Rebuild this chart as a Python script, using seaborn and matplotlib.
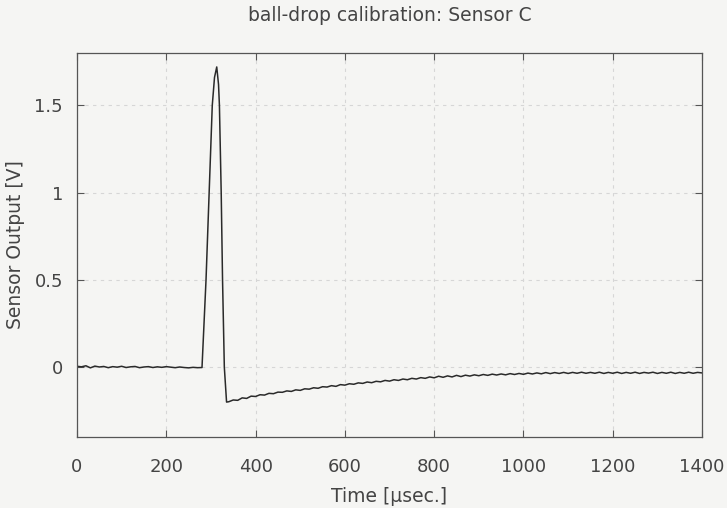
import numpy as np
import pandas as pd
import matplotlib
matplotlib.use("Agg")
import matplotlib.pyplot as plt
import seaborn as sns

# ---- data -------------------------------------------------------------
title = "ball-drop calibration: Sensor C"
x_label = "Time [µsec.]"
y_label = "Sensor Output [V]"

x_ticks = [0, 200, 400, 600, 800, 1000, 1200, 1400]
y_ticks = [0, 0.5, 1, 1.5]
y_tick_labels = ["0", "0.5", "1", "1.5"]

# quiet baseline before impact (10 µs sampling)
baseline_t = list(range(0, 290, 10))
baseline_v = [0.005, 0.002, 0.008, -0.004, 0.006, 0.001, 0.004, -0.003, 0.003, 0.000,
              0.005, -0.002, 0.002, 0.004, -0.003, 0.001, 0.003, -0.002, 0.002, -0.001,
              0.003, 0.000, -0.003, 0.001, -0.002, -0.004, -0.001, -0.003, -0.002]

# impact pulse
pulse_t = [289, 296, 303, 308, 313, 317, 319, 323, 326, 330, 335]
pulse_v = [0.50, 1.00, 1.50, 1.66, 1.72, 1.62, 1.50, 1.00, 0.50, 0.00, -0.20]

# undershoot and slow recovery (10 µs sampling)
tail_t = list(range(340, 1410, 10))
tail_v = [-0.198, -0.188, -0.190, -0.176, -0.179, -0.166, -0.168, -0.158, -0.160, -0.150,
          -0.152, -0.143, -0.144, -0.136, -0.139, -0.130, -0.133, -0.124, -0.126, -0.118,
          -0.121, -0.112, -0.114, -0.106, -0.110, -0.100, -0.103, -0.095, -0.098, -0.090,
          -0.093, -0.085, -0.089, -0.081, -0.084, -0.076, -0.080, -0.072, -0.076, -0.068,
          -0.072, -0.064, -0.068, -0.060, -0.064, -0.056, -0.061, -0.052, -0.058, -0.050,
          -0.056, -0.047, -0.054, -0.046, -0.051, -0.044, -0.049, -0.042, -0.047, -0.040,
          -0.045, -0.039, -0.044, -0.037, -0.042, -0.036, -0.041, -0.034, -0.039, -0.033,
          -0.038, -0.031, -0.037, -0.031, -0.036, -0.030, -0.036, -0.030, -0.035, -0.029,
          -0.035, -0.030, -0.035, -0.029, -0.036, -0.030, -0.035, -0.029, -0.036, -0.030,
          -0.035, -0.029, -0.036, -0.030, -0.034, -0.029, -0.036, -0.030, -0.035, -0.029,
          -0.036, -0.030, -0.035, -0.029, -0.035, -0.030, -0.033]

assert len(baseline_t) == len(baseline_v)
assert len(tail_t) == len(tail_v)

df = pd.DataFrame({
    "time": baseline_t + pulse_t + tail_t,
    "volts": baseline_v + pulse_v + tail_v,
})

# ---- style ------------------------------------------------------------
bg = "#f5f5f3"
ink = "#444444"
sns.set_theme(style="ticks")
plt.rcParams["font.family"] = ["DejaVu Sans"]
plt.rcParams.update({
    "text.color": ink,
    "axes.labelcolor": ink,
    "xtick.color": "#555555",
    "ytick.color": "#555555",
    "xtick.labelcolor": ink,
    "ytick.labelcolor": ink,
})

fig = plt.figure(figsize=(7.27, 5.08), dpi=100, facecolor=bg)
ax = fig.add_axes([0.1059, 0.1398, 0.8598, 0.7559])
ax.set_facecolor(bg)

sns.lineplot(data=df, x="time", y="volts", ax=ax, color="#2a2a2a",
             linewidth=1.1, sort=False, estimator=None)

ax.set_xlim(0, 1400)
ax.set_ylim(-0.4, 1.8)
ax.set_xticks(x_ticks)
ax.set_xticklabels([str(t) for t in x_ticks])
ax.set_yticks(y_ticks)
ax.set_yticklabels(y_tick_labels)

ax.grid(True, color="#d6d6d6", linestyle=(0, (3, 4)), linewidth=0.8)
ax.tick_params(direction="in", length=5, width=0.8, top=True, right=True,
               labelsize=13)
ax.tick_params(axis="x", pad=15)
ax.tick_params(axis="y", pad=10)
for s in ax.spines.values():
    s.set_color("#555555")
    s.set_linewidth(0.9)

ax.set_title(title, fontsize=13.5, pad=23)
ax.set_xlabel(x_label, fontsize=13.5, labelpad=8)
ax.set_ylabel(y_label, fontsize=13.5, labelpad=7)

fig.savefig("out.png", dpi=100, facecolor=bg)
